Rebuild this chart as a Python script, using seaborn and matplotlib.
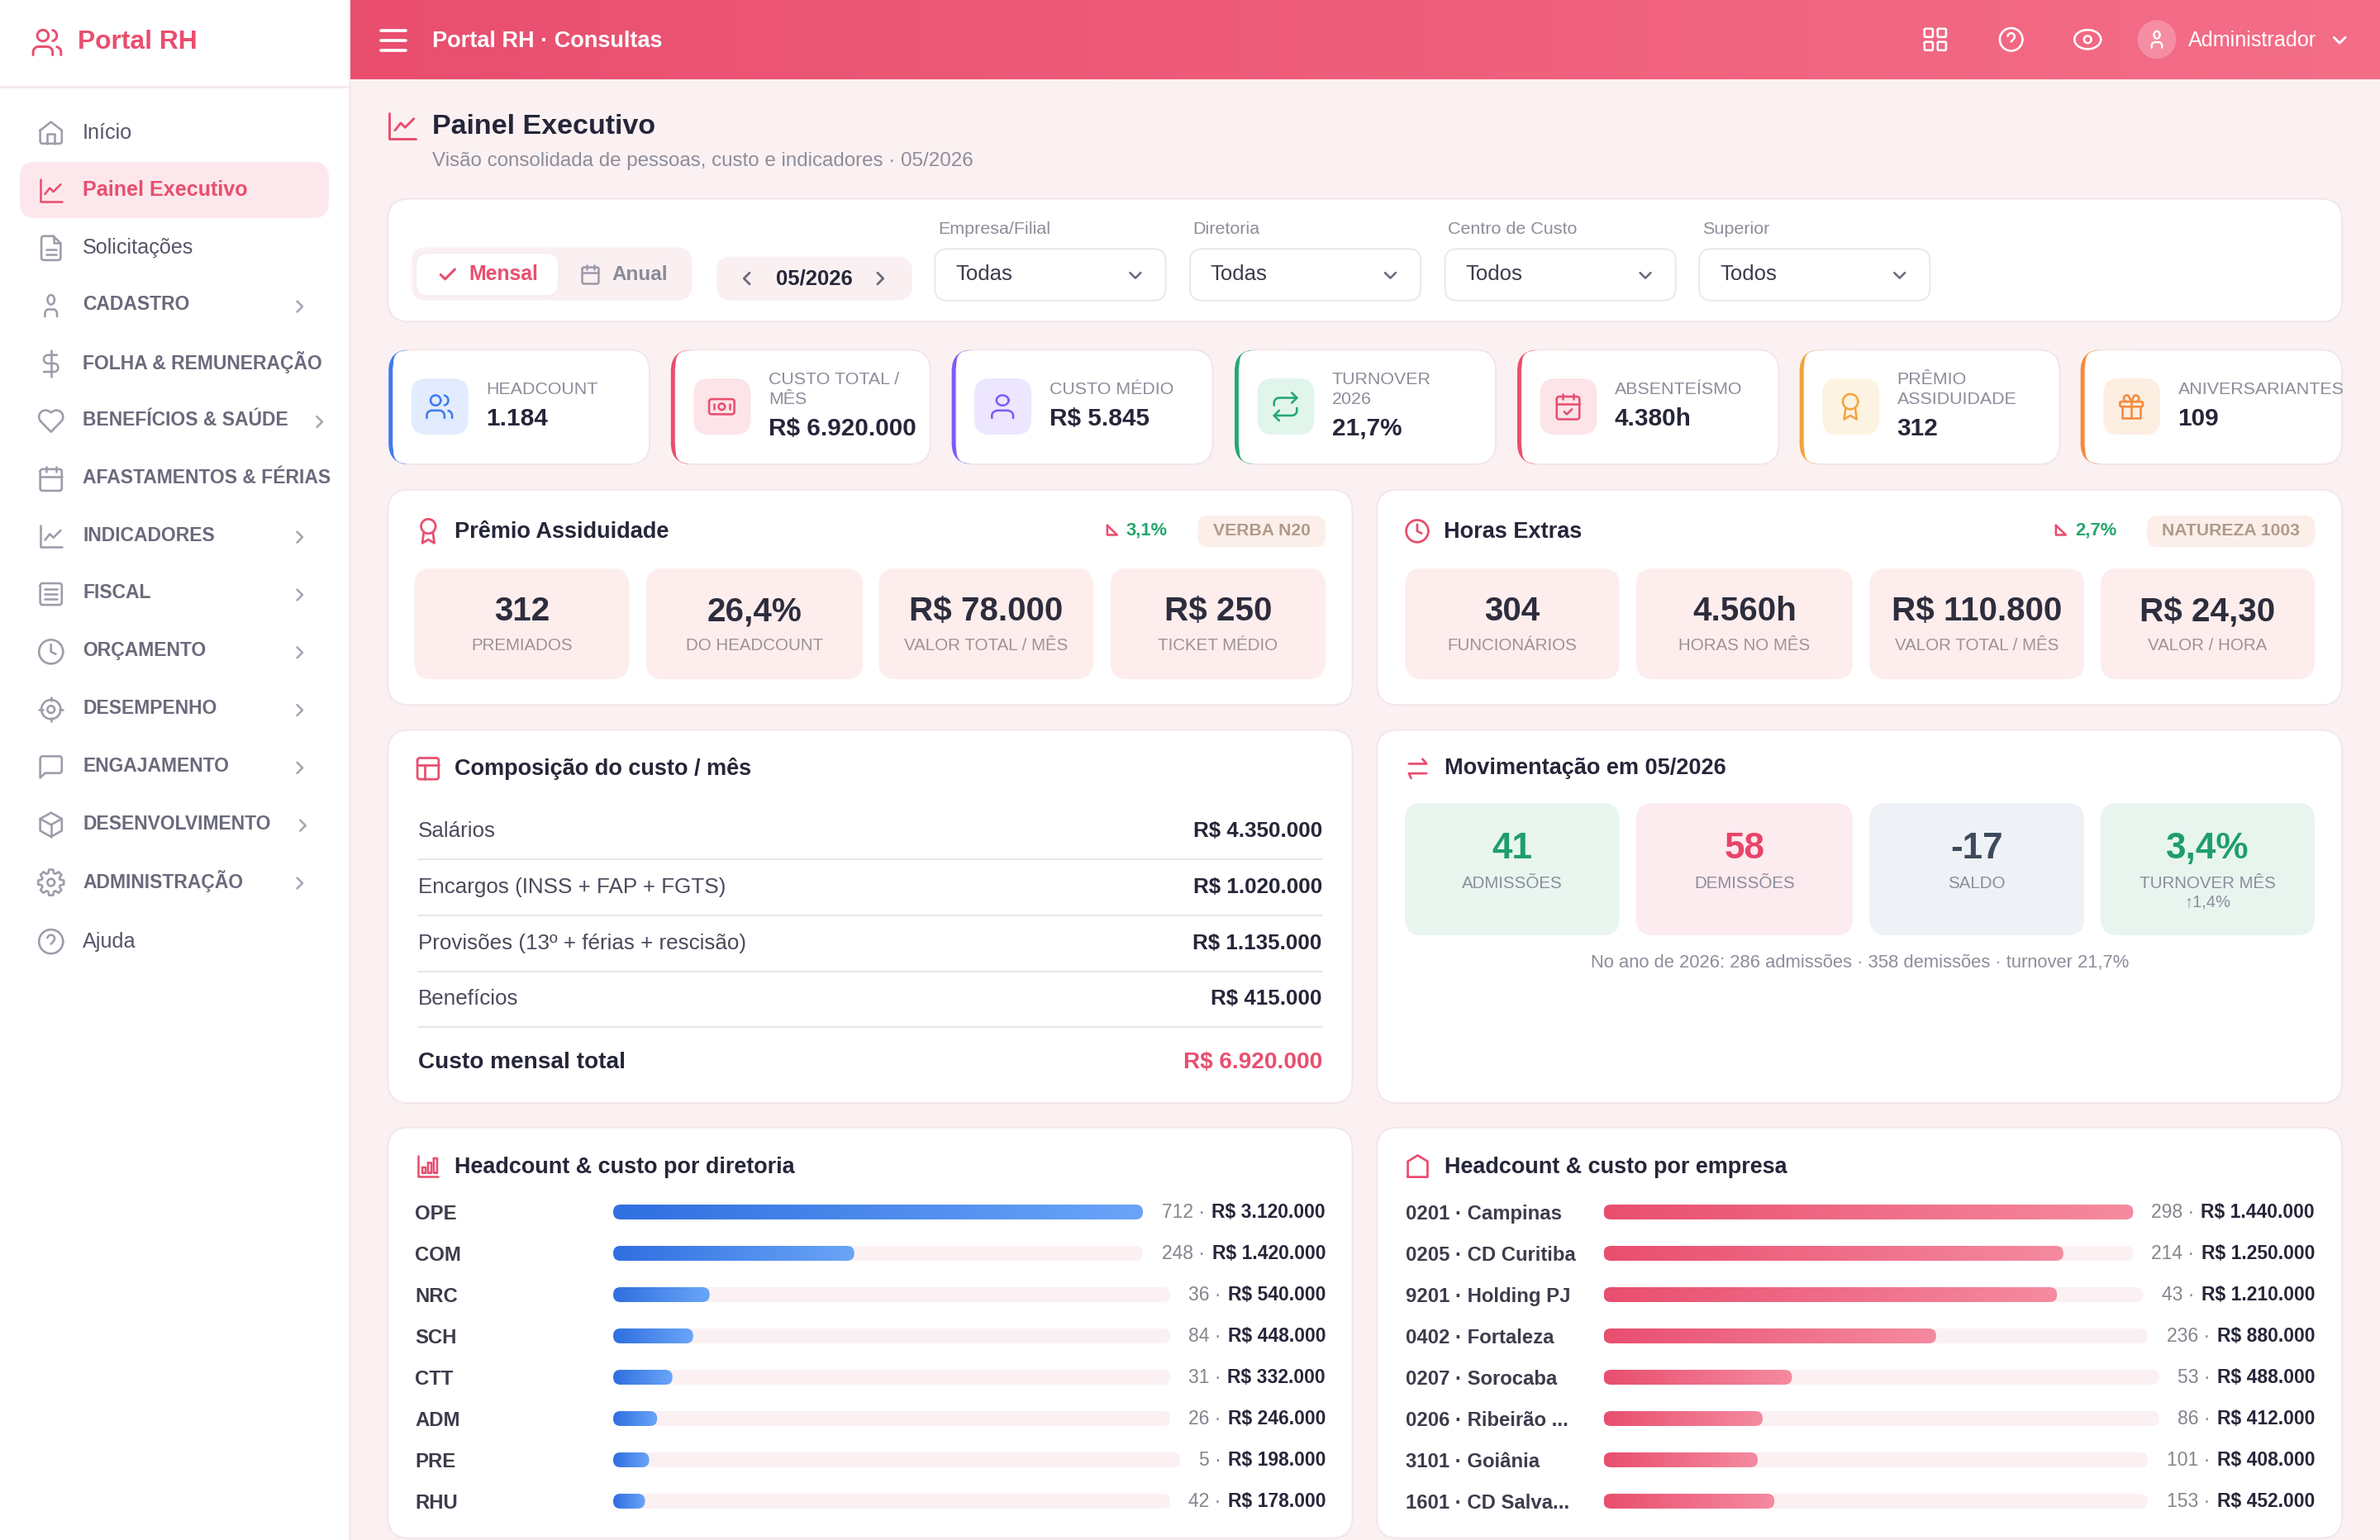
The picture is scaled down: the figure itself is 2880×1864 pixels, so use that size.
import numpy as np
import matplotlib
matplotlib.use("Agg")
import matplotlib.pyplot as plt
import seaborn as sns
from matplotlib.colors import LinearSegmentedColormap
from matplotlib.patches import FancyBboxPatch

# dados do painel
sidebar_labels = ["Início", "Painel Executivo", "Solicitações", "CADASTRO", "FOLHA & REMUNERAÇÃO",
                  "BENEFÍCIOS & SAÚDE", "AFASTAMENTOS & FÉRIAS", "INDICADORES", "FISCAL", "ORÇAMENTO",
                  "DESEMPENHO", "ENGAJAMENTO", "DESENVOLVIMENTO", "ADMINISTRAÇÃO", "Ajuda"]
kpi_labels = [["HEADCOUNT"], ["CUSTO TOTAL /", "MÊS"], ["CUSTO MÉDIO"], ["TURNOVER", "2026"],
              ["ABSENTEÍSMO"], ["PRÊMIO", "ASSIDUIDADE"], ["ANIVERSARIANTES"]]
kpi_values = ["1.184", "R$ 6.920.000", "R$ 5.845", "21,7%", "4.380h", "312", "109"]
filter_labels = ["Empresa/Filial", "Diretoria", "Centro de Custo", "Superior"]
filter_values = ["Todas", "Todas", "Todos", "Todos"]

premio_values = ["312", "26,4%", "R$ 78.000", "R$ 250"]
premio_labels = ["PREMIADOS", "DO HEADCOUNT", "VALOR TOTAL / MÊS", "TICKET MÉDIO"]
horas_values = ["304", "4.560h", "R$ 110.800", "R$ 24,30"]
horas_labels = ["FUNCIONÁRIOS", "HORAS NO MÊS", "VALOR TOTAL / MÊS", "VALOR / HORA"]

custo_labels = ["Salários", "Encargos (INSS + FAP + FGTS)", "Provisões (13º + férias + rescisão)", "Benefícios"]
custo_values = ["R$ 4.350.000", "R$ 1.020.000", "R$ 1.135.000", "R$ 415.000"]
mov_values = ["41", "58", "-17", "3,4%"]
mov_labels = ["ADMISSÕES", "DEMISSÕES", "SALDO", "TURNOVER MÊS"]

diretoria_labels = ["OPE", "COM", "NRC", "SCH", "CTT", "ADM", "PRE", "RHU"]
diretoria_headcount = [712, 248, 36, 84, 31, 26, 5, 42]
diretoria_custo = [3120000, 1420000, 540000, 448000, 332000, 246000, 198000, 178000]
empresa_labels = ["0201 · Campinas", "0205 · CD Curitiba", "9201 · Holding PJ", "0402 · Fortaleza",
                  "0207 · Sorocaba", "0206 · Ribeirão ...", "3101 · Goiânia", "1601 · CD Salva..."]
empresa_headcount = [298, 214, 43, 236, 53, 86, 101, 153]
empresa_custo = [1440000, 1250000, 1210000, 880000, 488000, 412000, 408000, 452000]

# layout (unidades da tela de 1568 de largura)
W, H = 1568, 1864 * 1568 / 2880
PT = (2880 / 1568) * 72 / 200
INK = "#26263a"
GREY = "#8d8d9b"
RED = "#e94e6f"
BORDER = "#f3e6e9"
BG = "#fbf1f2"

sns.set_theme(style="white")
plt.rcParams["font.family"] = ["Liberation Sans", "DejaVu Sans"]

fig = plt.figure(figsize=(14.4, 9.32), dpi=200)
main = fig.add_axes([0, 0, 1, 1])
main.set_xlim(0, W)
main.set_ylim(H, 0)
main.axis("off")
main.set_autoscale_on(False)
renderer = fig.canvas.get_renderer()


def box(x0, y0, x1, y1, r, color, edge="none", lw=0, z=1):
    p = FancyBboxPatch((x0, y0), x1 - x0, y1 - y0, boxstyle=f"round,pad=0,rounding_size={r}",
                       facecolor=color, edgecolor=edge, linewidth=lw * PT, zorder=z)
    main.add_patch(p)
    return p


def put(x, y, s, size, color=INK, weight="normal", ha="left", va="center", z=6):
    # va=center fica um pouco alto na Liberation, compensa pelo tamanho
    return main.text(x, y + 0.07 * size, s, fontsize=size * PT, color=color, fontweight=weight, ha=ha, va=va, zorder=z)


def card(x0, y0, x1, y1, r=14):
    box(x0, y0, x1, y1, r, "white", BORDER, 1.1, z=1)


def gradient(x0, y0, x1, y1, c0, c1, clip=None, z=3):
    cmap = LinearSegmentedColormap.from_list("g", [c0, c1])
    im = main.imshow(np.linspace(0, 1, 256)[None, :], extent=[x0, x1, y1, y0], aspect="auto",
                     cmap=cmap, interpolation="bilinear", zorder=z)
    if clip is not None:
        im.set_clip_path(clip)
    main.set_xlim(0, W)
    main.set_ylim(H, 0)


# icones desenhados numa grade de 24x24
def arc(cx, cy, rx, ry, a0, a1):
    t = np.radians(np.linspace(a0, a1, 40))
    return list(zip(cx + rx * np.cos(t), cy + ry * np.sin(t)))


def circ(cx, cy, r):
    return arc(cx, cy, r, r, 0, 360)


def rrect(x, y, w, h, r):
    return (arc(x + r, y + r, r, r, 180, 270) + arc(x + w - r, y + r, r, r, 270, 360)
            + arc(x + w - r, y + h - r, r, r, 0, 90) + arc(x + r, y + h - r, r, r, 90, 180) + [(x, y + r)])


gear_outline = []
for i in range(8):
    a = i * 45
    for rad, d in [(8, -17), (10.8, -9), (10.8, 9), (8, 17)]:
        t = np.radians(a + d)
        gear_outline.append((12 + rad * np.cos(t), 12 + rad * np.sin(t)))
gear_outline.append(gear_outline[0])

ICONS = {
    "users": [circ(9, 7, 4), [(2, 21), (2, 19)] + arc(6, 19, 4, 4, 180, 270) + arc(12, 19, 4, 4, 270, 360) + [(16, 21)],
              [(22, 21), (22, 19)] + arc(18, 19, 4, 4, 0, -75), arc(15, 7, 4, 4, -75, 75)],
    "user": [circ(12, 7, 4), [(19, 21), (19, 19)] + arc(15, 19, 4, 4, 0, -90) + arc(9, 19, 4, 4, 270, 180) + [(5, 21)]],
    "home": [[(3, 10), (12, 3), (21, 10), (21, 19)] + arc(19, 19, 2, 2, 0, 90) + arc(5, 19, 2, 2, 90, 180) + [(3, 10)],
             [(9, 21), (9, 13), (15, 13), (15, 21)]],
    "chart": [[(3, 3), (3, 21), (21, 21)], [(7, 15), (11, 10), (14, 13), (20, 7)]],
    "file": [[(14, 2)] + arc(6, 4, 2, 2, 270, 180) + arc(6, 20, 2, 2, 180, 90) + arc(18, 20, 2, 2, 90, 0) + [(20, 8), (14, 2)],
             [(14, 2), (14, 8), (20, 8)], [(8, 13), (16, 13)], [(8, 17), (16, 17)]],
    "dollar": [[(12, 1), (12, 23)],
               [(17, 5)] + arc(9.5, 8.5, 3.5, 3.5, 270, 90) + arc(14.5, 15.5, 3.5, 3.5, -90, 90) + [(6, 19)]],
    "heart": [arc(7.5, 8.5, 5.5, 5.5, 135, 315) + arc(16.5, 8.5, 5.5, 5.5, 225, 405) + [(12, 21), (3.6, 12.4)]],
    "calendar": [rrect(3, 4, 18, 18, 2), [(16, 2), (16, 6)], [(8, 2), (8, 6)], [(3, 10), (21, 10)]],
    "calcheck": [rrect(3, 4, 18, 18, 2), [(16, 2), (16, 6)], [(8, 2), (8, 6)], [(3, 10), (21, 10)],
                 [(9, 16), (11, 18), (15, 14)]],
    "list": [rrect(3, 3, 18, 18, 2), [(7, 8), (17, 8)], [(7, 12), (17, 12)], [(7, 16), (17, 16)]],
    "clock": [circ(12, 12, 10), [(12, 6), (12, 12), (16, 14)]],
    "target": [circ(12, 12, 8), circ(12, 12, 3), [(12, 2), (12, 5)], [(12, 19), (12, 22)], [(2, 12), (5, 12)], [(19, 12), (22, 12)]],
    "chat": [[(21, 15)] + arc(19, 15, 2, 2, 0, 90) + [(7, 17), (3, 21), (3, 5)] + arc(5, 5, 2, 2, 180, 270) + arc(19, 5, 2, 2, 270, 360) + [(21, 15)]],
    "box": [[(12, 2), (21, 7), (21, 17), (12, 22), (3, 17), (3, 7), (12, 2)], [(3, 7), (12, 12), (21, 7)], [(12, 12), (12, 22)]],
    "gear": [gear_outline, circ(12, 12, 3)],
    "help": [circ(12, 12, 10), arc(12, 9.5, 3, 3, 190, 400) + [(12, 14)], [(12, 17), (12, 17.1)]],
    "money": [rrect(2, 6, 20, 12, 2), circ(12, 12, 2.5), [(6, 10), (6, 14)], [(18, 10), (18, 14)]],
    "repeat": [[(17, 1), (21, 5), (17, 9)], [(3, 11), (3, 9)] + arc(7, 9, 4, 4, 180, 270) + [(21, 5)],
               [(7, 23), (3, 19), (7, 15)], [(21, 13), (21, 15)] + arc(17, 15, 4, 4, 0, 90) + [(3, 19)]],
    "award": [circ(12, 8, 6), [(8.2, 13), (7, 22), (12, 19), (17, 22), (15.8, 13)]],
    "gift": [rrect(3, 8, 18, 4, 1), [(12, 8), (12, 21)], [(19, 12), (19, 21), (5, 21), (5, 12)],
             arc(8.5, 5.5, 2.5, 2.5, 90, 300) + [(12, 8)], arc(15.5, 5.5, 2.5, 2.5, 90, -120) + [(12, 8)]],
    "swap": [[(4.7, 8), (19.3, 8), (16, 4)], [(19.3, 16), (4.7, 16), (6.5, 20)]],
    "bars": [[(3, 3), (3, 21), (21, 21)], rrect(7, 13, 3, 5, 0.2), rrect(12, 9, 3, 9, 0.2), rrect(17, 5, 3, 13, 0.2)],
    "building": [[(3.8, 21), (3.8, 8), (12, 3), (20.2, 8), (20.2, 21), (3.8, 21)]],
    "layout": [rrect(3, 3, 18, 18, 2), [(3, 9), (21, 9)], [(9, 21), (9, 9)]],
    "grid": [rrect(3, 3, 7, 7, 1), rrect(14, 3, 7, 7, 1), rrect(14, 14, 7, 7, 1), rrect(3, 14, 7, 7, 1)],
    "eye": [arc(12, 12, 11, 8, 0, 360), circ(12, 12, 3)],
    "check": [[(20, 6), (9, 17), (4, 12)]],
    "right": [[(9, 18), (15, 12), (9, 6)]],
    "left": [[(15, 18), (9, 12), (15, 6)]],
    "down": [[(6, 9), (12, 15), (18, 9)]],
}


def icon(name, cx, cy, size, color, lw=1.5, z=5, xs=1.0):
    s = size / 24
    for path in ICONS[name]:
        pts = np.array(path, dtype=float)
        main.plot(cx + (pts[:, 0] - 12) * s * xs, cy + (pts[:, 1] - 12) * s, color=color, lw=lw * PT,
                  solid_capstyle="round", solid_joinstyle="round", zorder=z)


def brl(v):
    return "R$ " + f"{v:,}".replace(",", ".")


# fundo, barra lateral e topo
main.add_patch(plt.Rectangle((0, 0), W, H, color=BG, zorder=0))
main.add_patch(plt.Rectangle((0, 0), 230, H, color="white", zorder=0.5))
main.plot([230.5, 230.5], [0, H], color="#f5e9ec", lw=1.5 * PT, zorder=0.6)
main.plot([0, 230], [57, 57], color="#f5e9ec", lw=1.5 * PT, zorder=0.6)
gradient(231, 0, W, 52, "#e94e6f", "#f46e88", z=1)

icon("users", 31, 28, 22, RED, 1.6)
put(51, 26.5, "Portal RH", 17.3, RED, "bold")

sidebar_y = [87, 125, 163, 201, 239, 277, 315, 353, 391, 429, 467, 505, 543, 581, 620]
sidebar_icons = ["home", "chart", "file", "user", "dollar", "heart", "calendar", "chart", "list", "clock",
                 "target", "chat", "box", "gear", "help"]
sidebar_chevron = [None, None, None, 197.5, None, 210.5, None, 197.5, 197.5, 197.5, 197.5, 197.5, 199.5, 197.5, None]
box(13, 106.7, 216.6, 143.7, 10, "#fce8ec", z=1)
for i, label in enumerate(sidebar_labels):
    y = sidebar_y[i]
    active = i == 1
    section = label.isupper() or "&" in label
    narrow = 0.72 if sidebar_icons[i] == "user" else 1.0
    icon(sidebar_icons[i], 33.6, y + 0.5, 19, RED if active else "#9c9caa", 1.4, xs=narrow)
    if section:
        put(54.5, y - 1, label, 12.45, "#6a6a7c", "bold")
    elif active:
        put(54.5, y - 0.5, label, 13.7, RED, "bold")
    else:
        put(54.5, y - 0.5, label, 13.7, "#55556a")
    if sidebar_chevron[i]:
        icon("right", sidebar_chevron[i], y + 1, 14, "#a6a6b2", 1.4)

put(285, 26, "Portal RH · Consultas", 14.75, "white", "bold")
for i in range(3):
    main.plot([251, 267.5], [20 + i * 6.5] * 2, color="white", lw=2 * PT, solid_capstyle="round", zorder=5)
icon("grid", 1275, 26, 19, "white", 1.4)
icon("help", 1325, 26, 18, "white", 1.4)
icon("eye", 1375.4, 26, 19, "white", 1.4)
main.add_patch(plt.Circle((1421, 26), 12, color="#f58da3", zorder=4))
icon("user", 1421, 26, 14.5, "white", 1.3, xs=0.8)
put(1441.5, 25.5, "Administrador", 13.7, "white")
icon("down", 1541.4, 26.5, 15, "white", 1.5)

# cabecalho da pagina
icon("chart", 265, 83, 23, RED, 1.6)
put(285, 82.5, "Painel Executivo", 18.5, INK, "bold")
put(285, 105, "Visão consolidada de pessoas, custo e indicadores · 05/2026", 13.13, GREY)

# filtros
card(255.5, 131, 1543, 212, 14)
box(271, 163, 456, 198, 10, "#faf0f2", z=2)
box(274, 166.7, 368, 195, 8, "white", "#f6ecef", 1, z=3)
icon("check", 295, 181, 14, RED, 1.7)
put(309, 180, "Mensal", 13.5, RED, "bold")
icon("calendar", 389, 181, 14.5, "#9c9caa", 1.4)
put(403, 180, "Anual", 13.2, "#8a8a98", "bold")
box(472, 169, 601, 198, 10, "#faf0f2", z=2)
icon("left", 492, 183.5, 15, "#6a6a7c", 1.5)
put(536.5, 183, "05/2026", 14, INK, "bold", ha="center")
icon("right", 580, 183.5, 15, "#6a6a7c", 1.5)
for x0, lab, val in zip([616, 784, 952, 1119.5], filter_labels, filter_values):
    put(x0 + 2, 150.5, lab, 11.7, GREY)
    box(x0, 164, x0 + 152, 198, 8, "white", "#ebe6e9", 1, z=2)
    put(x0 + 13.5, 180, val, 14, "#3c3c4c")
    icon("down", x0 + 132, 181.5, 14, "#6a6a7c", 1.4)

# cards de kpi
kpi_x0 = [256, 442, 627, 813.4, 999.6, 1185.6, 1370.7]
kpi_x1 = [428, 613, 799, 985.5, 1172, 1357, 1543]
kpi_accent = ["#3b7cf0", RED, "#7c5cf6", "#22a873", RED, "#f2a53a", "#f58a3c"]
kpi_tile = ["#e3ecfe", "#fce4e8", "#ece6ff", "#e2f5ec", "#fce4e8", "#fdf3e2", "#fdeee2"]
kpi_icons = ["users", "money", "user", "repeat", "calcheck", "award", "gift"]
kpi_icon_xs = [1.0, 1.0, 1.2, 1.0, 1.0, 1.0, 1.0]
for i in range(7):
    x0, x1 = kpi_x0[i], kpi_x1[i]
    box(x0, 230.5, x0 + 30, 306, 14, kpi_accent[i], z=1)
    box(x0 + 3.2, 230.5, x1, 306, 14, "white", BORDER, 1.1, z=1.5)
    # tampa o crescente para a faixa ficar quase reta
    box(x0 + 3.2, 231.2, x0 + 40, 305.3, 8, "white", z=1.6)
    box(x0 + 15, 249.4, x0 + 52.5, 286.4, 10, kpi_tile[i], z=2)
    icon(kpi_icons[i], x0 + 33.5, 268, 20, kpi_accent[i], 1.4, xs=kpi_icon_xs[i])
    tx = x0 + 64.2
    if len(kpi_labels[i]) == 1:
        put(tx, 256, kpi_labels[i][0], 11.65, GREY)
        put(tx, 274.8, kpi_values[i], 16.2, INK, "bold")
    else:
        put(tx, 249.5, kpi_labels[i][0], 11.65, GREY)
        put(tx, 262.5, kpi_labels[i][1], 11.65, GREY)
        put(tx, 281.3, kpi_values[i], 16.2, INK, "bold")

# paineis premio e horas extras
metric_x = [[273, 414.4], [425.6, 568.5], [579, 720.4], [731.6, 873.3]]
metric_x2 = [[925.6, 1067], [1078, 1220.5], [1231.7, 1373], [1384, 1525]]


def metric_panel(px0, px1, title, ico, ico_size, vals, labs, xs, pct, tri_x, pct_x, badge, badge_x):
    card(px0, 322.7, px1, 464.6, 14)
    icon(ico, px0 + 26.7, 350, ico_size, RED, 1.5)
    put(px0 + 44, 349.5, title, 14.75, INK, "bold")
    main.plot([tri_x, tri_x, tri_x + 6.5, tri_x], [346.2, 352.5, 352.5, 346.2], color=RED, lw=1.4 * PT, zorder=5)
    put(pct_x, 348.5, pct, 12, "#27a56e", "bold")
    box(badge_x, 339.8, px1 - 17.7, 360.5, 7, "#fcefea", z=2)
    put((badge_x + px1 - 17.7) / 2, 349, badge, 11.5, "#b09a8a", "bold", ha="center")
    for (x0, x1), v, lab in zip(xs, vals, labs):
        box(x0, 374.6, x1, 447.6, 11, "#fdeeed", z=2)
        put((x0 + x1) / 2, 401.6, v, 22, "#2d2d3d", "bold", ha="center")
        put((x0 + x1) / 2, 424.8, lab, 11.2, "#a09292", ha="center")


metric_panel(255.5, 891, "Prêmio Assiduidade", "award", 19, premio_values, premio_labels, metric_x,
             "3,1%", 729.5, 742, "VERBA N20", 789)
metric_panel(907, 1543, "Horas Extras", "clock", 17.5, horas_values, horas_labels, metric_x2,
             "2,7%", 1354.5, 1367, "NATUREZA 1003", 1414.6)

# composicao do custo
card(255.5, 481, 891, 727, 14)
icon("layout", 282, 506.5, 18.7, RED, 1.5)
put(299.5, 505.5, "Composição do custo / mês", 14.75, INK, "bold")
for y, lab, val in zip([547, 584, 621, 658], custo_labels, custo_values):
    put(275.5, y - 0.5, lab, 14.2, "#4a4a5c")
    put(871, y - 0.5, val, 14.2, INK, "bold", ha="right")
    main.plot([275.5, 871], [y + 19, y + 19], color="#e8e3e5", lw=1 * PT, zorder=2)
put(275.5, 699, "Custo mensal total", 15.25, INK, "bold")
put(871, 699, "R$ 6.920.000", 15.25, RED, "bold", ha="right")

# movimentacao
card(907, 481, 1543, 727, 14)
icon("swap", 934, 506.5, 19, RED, 1.5)
put(951.7, 505.5, "Movimentação em 05/2026", 14.75, INK, "bold")
mov_bg = ["#e8f6ef", "#fcebef", "#eef1f6", "#e8f5ef"]
mov_fg = ["#1f9d6e", "#e9446a", "#3d4a5c", "#1f9d6e"]
for (x0, x1), v, lab, bgc, fg in zip(metric_x2, mov_values, mov_labels, mov_bg, mov_fg):
    box(x0, 529.2, x1, 616.3, 11, bgc, z=2)
    put((x0 + x1) / 2, 558, v, 24, fg, "bold", ha="center")
    put((x0 + x1) / 2, 581.6, lab, 11.2, GREY, ha="center")
put(1454.5, 593.8, "↑1,4%", 11, GREY, ha="center")
put(1225.5, 633.5, "No ano de 2026: 286 admissões · 358 demissões · turnover 21,7%", 12, GREY, ha="center")


# barras de headcount e custo
def bar_rows(labels, headcount, custo, label_x, track_x0, track_x1, text_x1, c0, c1):
    for i, lab in enumerate(labels):
        yc = 798.7 + i * 27.22
        x1 = track_x1[i]
        box(track_x0, yc - 4.9, x1, yc + 4.9, 4.8, "#fbf1f3", z=2)
        ax = fig.add_axes([track_x0 / W, 1 - (yc + 4.9) / H, (x1 - track_x0) / W, 9.8 / H])
        sns.barplot(x=[custo[i]], y=[lab], orient="h", width=1, color=c0, ax=ax)
        ax.set_xlim(0, max(custo))
        ax.set_ylim(0.5, -0.5)
        ax.axis("off")
        ax.patch.set_visible(False)
        bar = ax.patches[0]
        disp = ax.transData.transform([(bar.get_x(), bar.get_y()), (bar.get_x() + bar.get_width(), bar.get_y() + bar.get_height())])
        (bx0, by0), (bx1, by1) = main.transData.inverted().transform(disp)
        bar.set_visible(False)
        clip = FancyBboxPatch((bx0, by0), bx1 - bx0, by1 - by0, boxstyle="round,pad=0,rounding_size=4.8",
                              transform=main.transData)
        gradient(bx0, by0, bx1, by1, c0, c1, clip=clip)
        put(label_x, yc + 0.2, lab, 13, "#3c3c4c", "bold")
        t = put(text_x1, yc - 0.8, brl(custo[i]), 12.5, INK, "bold", ha="right")
        bb = t.get_window_extent(renderer)
        left = main.transData.inverted().transform((bb.x0, bb.y0))[0]
        put(left - 1, yc - 0.8, f"{headcount[i]} · ", 12.5, "#85858f", ha="right")


card(255.5, 743, 891, 1013.7, 14)
icon("bars", 282, 768.5, 18, RED, 1.4)
put(299.5, 768, "Headcount & custo por diretoria", 14.7, INK, "bold")
bar_rows(diretoria_labels, diretoria_headcount, diretoria_custo, 273.5, 404,
         [753, 753, 771, 771, 771, 771, 777.6, 771], 873.3, "#2f6fe0", "#6aa5f8")

card(907, 743, 1543, 1013.7, 14)
icon("building", 934, 768.5, 19, RED, 1.5)
put(951.7, 768, "Headcount & custo por empresa", 14.7, INK, "bold")
bar_rows(empresa_labels, empresa_headcount, empresa_custo, 926, 1056.5,
         [1405.4, 1405.4, 1412, 1415, 1422.6, 1422.6, 1415, 1415], 1525, "#e94e6f", "#f58ba0")

fig.savefig("out.png", dpi=200)
